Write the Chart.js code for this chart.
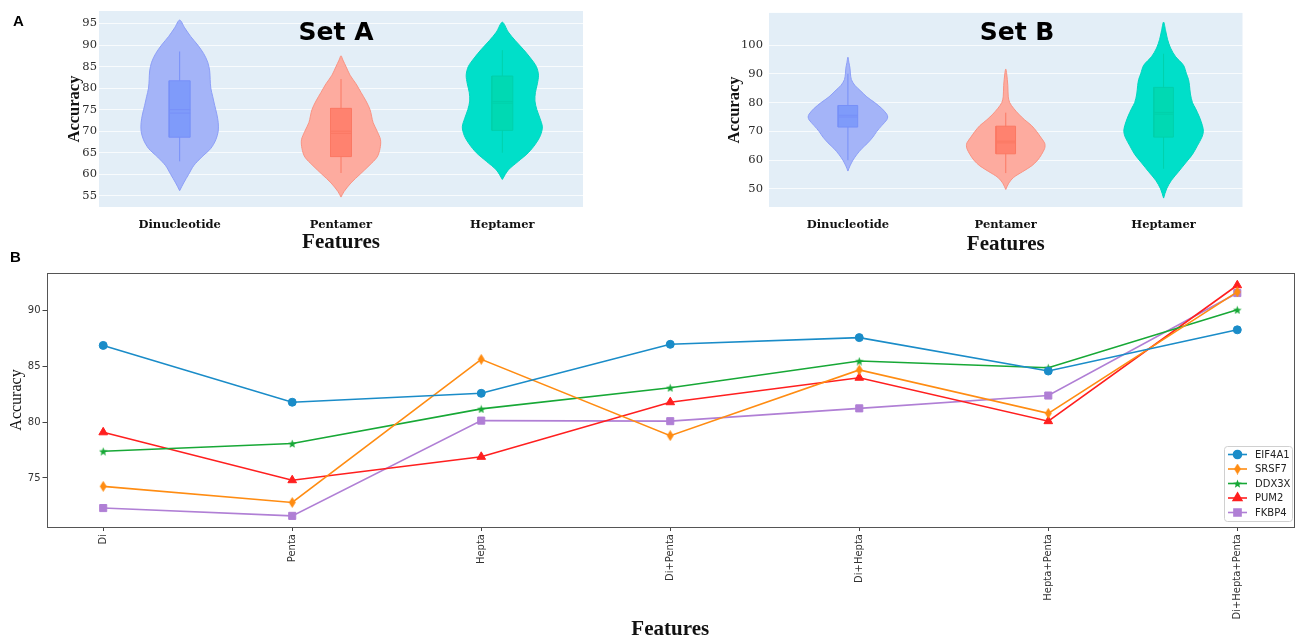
<!DOCTYPE html>
<html>
<head>
<meta charset="utf-8">
<title>Accuracy by feature set</title>
<script src="https://cdn.jsdelivr.net/npm/chart.js@4.4.1/dist/chart.umd.min.js"></script>
<style>
  body { margin: 0; background: #fff; }
  #page { position: relative; width: 1300px; height: 642px; overflow: hidden; }
  .box { position: absolute; }
  .tag { position: absolute; font: bold 15px "Liberation Sans", Arial, sans-serif; line-height: 1; color: #000; }
  .set { position: absolute; font: bold 25px "DejaVu Sans", sans-serif; line-height: 1; color: #000; transform: translate(-50%, -50%); }
</style>
</head>
<body>
<div id="page">
  <div class="box" style="left:0;top:0"><canvas id="setA" width="600" height="260"></canvas></div>
  <div class="box" style="left:640px;top:0"><canvas id="setB" width="660" height="260"></canvas></div>
  <div class="box" style="left:0;top:254px"><canvas id="lines" width="1300" height="388"></canvas></div>
  <div class="tag" style="left:13px;top:13px">A</div>
  <div class="tag" style="left:10px;top:249px">B</div>
  <div class="set" style="left:336px;top:31px">Set A</div>
  <div class="set" style="left:1017px;top:31px">Set B</div>
</div>
<script>
const violinCats = ['Dinucleotide', 'Pentamer', 'Heptamer'];

// violin outlines: accuracy level -> half width (in category units)
const setADiAcc = [56.2, 58, 60, 62, 64, 66, 68, 70, 72, 74, 76, 78, 80, 82, 84, 86, 88, 90, 92, 94, 95.8];
const setADiHalf = [0, .025, .056, .087, .137, .193, .224, .239, .239, .230, .217, .205, .193, .189, .186, .174, .149, .112, .068, .031, 0];
const setAPentAcc = [54.7, 56, 58, 60, 62, 64, 66, 68, 70, 72, 75, 77, 79, 81, 83, 85, 86.5, 87.5];
const setAPentHalf = [0, .019, .062, .118, .174, .224, .242, .245, .224, .199, .180, .155, .124, .093, .056, .031, .012, 0];
const setAHeptAcc = [58.8, 61, 63, 65, 67, 69, 71, 73, 75, 77, 79, 81, 83, 85, 87, 89, 91, 93, 95.3];
const setAHeptHalf = [0, .037, .099, .161, .205, .236, .248, .233, .214, .202, .205, .217, .224, .211, .174, .130, .081, .037, 0];

const setBDiAcc = [56.2, 58, 60, 62, 64, 66, 68, 70, 72, 74, 75, 76, 78, 80, 82, 84, 86, 88, 90, 92, 94, 95.8];
const setBDiHalf = [0, .013, .032, .057, .088, .126, .158, .183, .214, .246, .252, .246, .214, .170, .120, .082, .044, .022, .016, .013, .006, 0];
const setBPentAcc = [49.8, 52, 54, 56, 58, 60, 62, 64, 65, 66, 68, 70, 72, 74, 76, 78, 80, 82, 86, 90, 91.7];
const setBPentHalf = [0, .019, .050, .107, .164, .202, .227, .246, .249, .246, .221, .195, .164, .120, .082, .050, .025, .016, .013, .006, 0];
const setBHeptAcc = [46.8, 50, 53, 56, 59, 62, 65, 68, 70, 72, 75, 78, 80, 83, 86, 88, 90, 93, 96, 99, 102, 105, 108];
const setBHeptHalf = [0, .019, .050, .095, .139, .183, .214, .243, .252, .246, .227, .202, .183, .170, .164, .158, .145, .126, .076, .044, .025, .013, 0];

// box statistics per category (Dinucleotide, Pentamer, Heptamer)
const setALow = [63, 60.3, 65];
const setAQ1 = [68.6, 64.1, 70.2];
const setAMedian = [74.2, 69.5, 76.5];
const setAMean = [75.0, 70.0, 76.9];
const setAQ3 = [81.7, 75.3, 82.8];
const setAHigh = [88.5, 82.1, 88.8];

const setBLow = [60, 55.5, 57];
const setBQ1 = [71.5, 62.2, 68];
const setBMedian = [75, 66, 76];
const setBMean = [75.6, 66.6, 76.6];
const setBQ3 = [79, 71.8, 85.3];
const setBHigh = [90, 76.5, 97];

const setATicks = [55, 60, 65, 70, 75, 80, 85, 90, 95];
const setBTicks = [50, 60, 70, 80, 90, 100];

// panel B: accuracy of each protein per feature combination
const featureSets = ['Di', 'Penta', 'Hepta', 'Di+Penta', 'Di+Hepta', 'Hepta+Penta', 'Di+Hepta+Penta'];
const eif4a1 = [86.9, 81.8, 82.6, 87.0, 87.6, 84.6, 88.3];
const srsf7 = [74.25, 72.8, 85.65, 78.8, 84.7, 80.8, 91.7];
const ddx3x = [77.4, 78.1, 81.2, 83.1, 85.5, 84.9, 90.1];
const pum2 = [79.1, 74.8, 76.9, 81.8, 84.0, 80.1, 92.3];
const fkbp4 = [72.3, 71.6, 80.15, 80.1, 81.25, 82.4, 91.6];
const lineTicks = [75, 80, 85, 90];

const violinFill = ['#a4b4f8', '#fdab9f', '#00dfc9'];
const violinEdge = ['#8d9ff7', '#f99484', '#00d6c0'];
const boxFill = ['#7f9bfa', '#ff826f', '#00d9b3'];
const boxEdge = ['#7790f8', '#fb7863', '#00d0ab'];

const SERIF_B = '"Liberation Serif", "Times New Roman", serif';
const SERIF_T = '"DejaVu Serif", serif';

const plotBg = {
  id: 'plotBg',
  beforeDraw(chart, args, opts) {
    const a = chart.chartArea;
    chart.ctx.save();
    chart.ctx.fillStyle = opts.color;
    chart.ctx.fillRect(a.left, a.top, a.right - a.left, a.bottom - a.top);
    chart.ctx.restore();
  }
};

function pts(xs, ys) {
  return xs.map((x, k) => ({ x: x, y: ys[k] }));
}

function violinChart(id, s) {
  const datasets = [];
  for (let i = 0; i < 3; i++) {
    const acc = s.acc[i], half = s.half[i];
    const outline = [];
    for (let k = 0; k < acc.length; k++) outline.push({ x: i + half[k], y: acc[k] });
    for (let k = acc.length - 2; k >= 0; k--) outline.push({ x: i - half[k], y: acc[k] });
    datasets.push({
      data: outline, fill: 'shape', backgroundColor: violinFill[i], borderColor: violinEdge[i],
      borderWidth: 1, tension: 0.3, pointRadius: 0, order: 5
    });
    datasets.push({
      data: pts([i, i], [s.low[i], s.high[i]]), borderColor: boxEdge[i], borderWidth: 1, pointRadius: 0, order: 4
    });
    const b = s.boxHalf;
    datasets.push({
      data: pts([i - b, i + b, i + b, i - b, i - b], [s.q1[i], s.q1[i], s.q3[i], s.q3[i], s.q1[i]]),
      fill: 'shape', backgroundColor: boxFill[i], borderColor: boxEdge[i], borderWidth: 1,
      tension: 0, pointRadius: 0, order: 3
    });
    datasets.push({
      data: pts([i - b, i + b], [s.mean[i], s.mean[i]]), borderColor: boxEdge[i], borderWidth: 1, pointRadius: 0, order: 2
    });
    datasets.push({
      data: pts([i - b, i + b], [s.median[i], s.median[i]]), borderColor: boxEdge[i], borderWidth: 1, pointRadius: 0, order: 1
    });
  }

  new Chart(document.getElementById(id), {
    type: 'line',
    data: { datasets: datasets },
    plugins: [plotBg],
    options: {
      responsive: false,
      animation: false,
      events: [],
      layout: { padding: s.padding },
      plugins: { legend: { display: false }, tooltip: { enabled: false }, plotBg: { color: '#e3eef7' } },
      scales: {
        x: {
          type: 'linear', min: -0.5, max: 2.5,
          afterBuildTicks: function(scale) { scale.ticks = [0, 1, 2].map(v => ({ value: v })); },
          afterFit: function(scale) { scale.height = s.xHeight; },
          grid: { display: false },
          border: { display: false },
          ticks: {
            padding: 3, color: '#111',
            font: { family: SERIF_T, size: 11.5, weight: 'bold' },
            callback: function(v) { return violinCats[v]; }
          },
          title: { display: true, text: 'Features', padding: 0, color: '#111', font: { family: SERIF_B, size: 21, weight: 'bold' } }
        },
        y: {
          min: s.yMin, max: s.yMax,
          afterBuildTicks: function(scale) { scale.ticks = s.ticks.map(v => ({ value: v })); },
          afterFit: function(scale) { scale.width = s.yWidth; },
          grid: { color: 'rgba(255,255,255,0.75)', drawTicks: false },
          border: { display: false },
          ticks: { padding: s.tickPad, color: '#2a2a2a', font: { family: SERIF_T, size: 11.5 } },
          title: { display: true, text: 'Accuracy', padding: 0, color: '#111', font: { family: SERIF_B, size: 16.5, weight: 'bold' } }
        }
      }
    }
  });
}

violinChart('setA', {
  acc: [setADiAcc, setAPentAcc, setAHeptAcc], half: [setADiHalf, setAPentHalf, setAHeptHalf],
  low: setALow, q1: setAQ1, median: setAMedian, mean: setAMean, q3: setAQ3, high: setAHigh,
  boxHalf: 0.065, ticks: setATicks, yMin: 52.4, yMax: 97.9,
  padding: { left: 65, top: 11, right: 17, bottom: 5 }, yWidth: 34, xHeight: 48, tickPad: 2
});

violinChart('setB', {
  acc: [setBDiAcc, setBPentAcc, setBHeptAcc], half: [setBDiHalf, setBPentHalf, setBHeptHalf],
  low: setBLow, q1: setBQ1, median: setBMedian, mean: setBMean, q3: setBQ3, high: setBHigh,
  boxHalf: 0.062, ticks: setBTicks, yMin: 43.7, yMax: 111.2,
  padding: { left: 85, top: 12, right: 57.5, bottom: 3 }, yWidth: 44, xHeight: 50, tickPad: 6
});

// filled star and thin diamond markers
function marker(kind, color, size) {
  const c = document.createElement('canvas');
  c.width = size; c.height = size;
  const g = c.getContext('2d');
  const m = size / 2;
  g.fillStyle = color;
  g.beginPath();
  if (kind === 'star') {
    for (let k = 0; k < 10; k++) {
      const r = k % 2 ? m * 0.42 : m;
      const ang = -Math.PI / 2 + k * Math.PI / 5;
      g.lineTo(m + r * Math.cos(ang), m + 0.6 + r * Math.sin(ang));
    }
  } else {
    g.moveTo(m, 0);
    g.lineTo(m + m * 0.62, m);
    g.lineTo(m, size);
    g.lineTo(m - m * 0.62, m);
  }
  g.closePath();
  g.fill();
  return c;
}

const lineColors = ['#1a8cc8', '#ff8c12', '#17a836', '#ff1f1f', '#b07fd5'];
const lineStyles = ['circle', marker('diamond', lineColors[1], 11), marker('star', lineColors[2], 9), 'triangle', 'rect'];
const lineRadius = [4, 5, 4.5, 5, 5];
const lineNames = ['EIF4A1', 'SRSF7', 'DDX3X', 'PUM2', 'FKBP4'];
const lineValues = [eif4a1, srsf7, ddx3x, pum2, fkbp4];

const frame = {
  id: 'frame',
  afterDraw(chart) {
    const { ctx, chartArea: a } = chart;
    ctx.save();
    ctx.strokeStyle = '#555';
    ctx.lineWidth = 1;
    ctx.strokeRect(Math.round(a.left) + 0.5, Math.round(a.top) + 0.5, Math.round(a.right - a.left) - 1, Math.round(a.bottom - a.top));

    // legend box, lower right inside the plot
    const x0 = a.right - 70, y0 = a.bottom - 81;
    ctx.fillStyle = 'rgba(255,255,255,0.85)';
    ctx.strokeStyle = '#d0d0d0';
    ctx.beginPath();
    ctx.roundRect(x0 + 0.5, y0 + 0.5, 68, 75, 3);
    ctx.fill();
    ctx.stroke();
    ctx.font = '10px "DejaVu Sans", sans-serif';
    ctx.textBaseline = 'middle';
    chart.data.datasets.forEach(function(ds, i) {
      const y = y0 + 8.5 + i * 14.5;
      ctx.strokeStyle = ds.borderColor;
      ctx.lineWidth = 1.6;
      ctx.beginPath();
      ctx.moveTo(x0 + 4, y);
      ctx.lineTo(x0 + 23, y);
      ctx.stroke();
      ctx.fillStyle = ds.borderColor;
      ctx.strokeStyle = ds.borderColor;
      Chart.helpers.drawPoint(ctx, { pointStyle: ds.pointStyle, radius: ds.pointRadius, rotation: 0, borderWidth: 1 }, x0 + 13.5, y);
      ctx.fillStyle = '#222';
      ctx.fillText(ds.label, x0 + 31, y + 0.5);
    });
    ctx.restore();
  }
};

new Chart(document.getElementById('lines'), {
  type: 'line',
  data: {
    datasets: lineNames.map(function(name, i) {
      return {
        label: name,
        data: lineValues[i].map((v, k) => ({ x: k, y: v })),
        borderColor: lineColors[i],
        backgroundColor: lineColors[i],
        pointBackgroundColor: lineColors[i],
        pointBorderColor: lineColors[i],
        pointBorderWidth: 1,
        pointStyle: lineStyles[i],
        pointRadius: lineRadius[i],
        borderWidth: 1.6,
        tension: 0
      };
    })
  },
  plugins: [frame],
  options: {
    responsive: false,
    animation: false,
    events: [],
    layout: { padding: { left: 7, top: 19, right: 3, bottom: 0 } },
    plugins: { legend: { display: false }, tooltip: { enabled: false } },
    scales: {
      x: {
        type: 'linear', min: -0.3, max: 6.3,
        afterBuildTicks: function(scale) { scale.ticks = featureSets.map((_, k) => ({ value: k })); },
        afterFit: function(scale) { scale.height = 115; },
        grid: { drawOnChartArea: false, drawTicks: true, tickLength: 4, color: '#444' },
        border: { display: false },
        ticks: {
          minRotation: 90, maxRotation: 90, autoSkip: false, padding: 3, color: '#333',
          font: { family: '"DejaVu Sans", sans-serif', size: 10 },
          callback: function(v) { return featureSets[v]; }
        },
        title: { display: true, text: 'Features', padding: 0, color: '#111', font: { family: SERIF_B, size: 21, weight: 'bold' } }
      },
      y: {
        min: 70.6, max: 93.4,
        afterBuildTicks: function(scale) { scale.ticks = lineTicks.map(v => ({ value: v })); },
        afterFit: function(scale) { scale.width = 39.5; },
        grid: { drawOnChartArea: false, drawTicks: true, tickLength: 4, color: '#444' },
        border: { display: false },
        ticks: { padding: 2, color: '#333', font: { family: '"DejaVu Sans", sans-serif', size: 10 } },
        title: { display: true, text: 'Accuracy', padding: 0, color: '#111', font: { family: SERIF_B, size: 16 } }
      }
    }
  }
});
</script>
</body>
</html>
